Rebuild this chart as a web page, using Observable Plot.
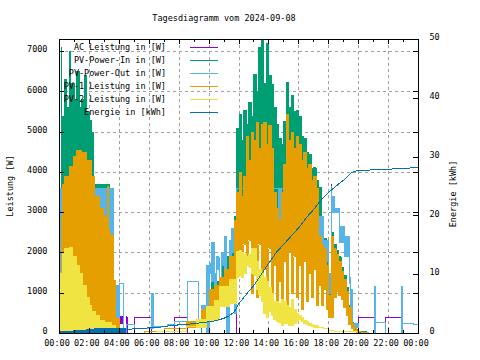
<!DOCTYPE html>
<html>
<head>
<meta charset="utf-8">
<script src="https://cdn.jsdelivr.net/npm/d3@7"></script>
<script src="https://cdn.jsdelivr.net/npm/@observablehq/plot@0.6"></script>
<style>
  html,body{margin:0;padding:0;background:#fff;}
  #chart{position:relative;width:480px;height:360px;overflow:hidden;}
  #chart svg{position:absolute;left:0;top:0;}
</style>
</head>
<body>
<div id="chart"></div>
<script>
// ---------------- data ----------------
const titleText = "Tagesdiagramm vom 2024-09-08";
const yLabel = "Leistung [W]";
const y2Label = "Energie [kWh]";
const seriesNames = ["AC Leistung in [W]", "PV-Power-In in [W]", "PV-Power-Out in [W]",
  "PV-1 Leistung in [W]", "PV-2 Leistung in [W]", "Energie in [kWh]"];
const colors = ["#9400d3", "#009e73", "#56b4e9", "#e69f00", "#f0e442", "#0072b2"];

const majorHours = [0, 2, 4, 6, 8, 10, 12, 14, 16, 18, 20, 22, 24];
const minorHours = [1, 3, 5, 7, 9, 11, 13, 15, 17, 19, 21, 23];
const xTickLabels = ["00:00", "02:00", "04:00", "06:00", "08:00", "10:00", "12:00",
  "14:00", "16:00", "18:00", "20:00", "22:00", "00:00"];
const yTicks = [0, 1000, 2000, 3000, 4000, 5000, 6000, 7000];
const y2Ticks = [0, 10, 20, 30, 40, 50];

// AC Leistung [W] (upper / lower value per time step)
const acTime = ["00:00","03:35","04:00","04:18","04:28","04:31","05:02","06:09","07:42","08:33",
  "11:50","12:20","12:50","17:02","18:00","18:10","18:12","18:25","18:45","19:05",
  "19:25","19:28","19:37","20:00","21:04","21:06","21:49","22:53","22:55","24:00"];
const acHi = [3500,1100,410,0,410,0,390,0,390,0,
  3600,3640,3600,2000,1000,3700,3000,3000,2250,1900,
  1240,500,150,400,780,0,400,780,0,0];
const acLo = [0,0,250,0,0,0,390,0,390,0,
  3600,3640,3600,2000,1000,3700,3000,3000,2250,1900,
  1240,500,150,400,780,0,400,780,0,0];

// PV-Power-In [W]
const inTime = ["00:00","00:08","00:10","00:14","00:22","00:30","00:40","00:44","00:50","01:00",
  "01:10","01:20","01:30","01:40","01:50","02:00","02:10","02:15","03:20","03:35",
  "04:00","09:30","09:50","10:10","10:30","10:50","11:10","11:30","11:40",
  "11:50","12:00","12:10","12:20","12:30","12:40","12:50","13:00","13:10","13:20",
  "13:30","13:40","13:50","14:00","14:10","14:20","14:30","14:40","14:50","15:00",
  "15:10","15:20","15:30","15:40","15:50","16:00","16:10","16:20","16:30","16:40",
  "16:50","17:00","17:10","17:20","17:30","17:40","17:50","18:00","18:10","18:20",
  "18:30","18:40","18:50","19:00","19:10","19:20","19:30","19:40","19:50",
  "20:00","20:30","24:00"];
const inHi = [3000,7100,5000,5400,6300,5600,7000,6000,6200,5800,
  6500,5600,5800,6400,5500,5300,5000,3700,3500,1100,
  0,600,1000,1500,1300,1700,1900,2200,2900,
  5100,5450,4800,5530,5200,5740,5400,6430,6000,7110,
  7270,6200,7190,6400,6180,5600,5180,4850,4690,5270,
  6220,5600,5900,5500,5530,5400,4900,4850,4500,4440,
  4100,4110,3800,3620,2600,2350,2000,1100,2500,2200,
  2050,1900,1650,1450,1150,700,280,160,90,
  50,0,0];
const inLo = [0,0,0,0,0,0,0,0,0,0,
  0,0,0,0,0,0,0,0,0,0,
  0,300,400,700,800,900,900,1000,800,
  1600,1900,1700,2200,1800,2300,1000,1900,900,2200,
  1000,1600,1000,2100,800,1700,700,1300,500,1800,
  700,2000,1000,1900,900,1700,600,1800,800,1500,
  900,1600,700,1200,700,1100,600,400,400,900,
  1050,950,850,650,450,230,130,40,30,
  0,0,0];

// PV-Power-Out [W]
const outTime = ["00:00","03:35","04:00","04:18","04:30","05:02","06:08","06:16","07:13","07:42",
  "08:33","09:18","09:30","09:50","10:00","10:10","10:20","10:30","10:40","10:50",
  "11:00","11:10","11:20","11:30","11:40","11:50","14:40","14:50","17:02","17:20",
  "17:40","18:00","18:10","18:13","18:25","18:45","19:05","19:25","19:28","19:37",
  "20:00","21:04","21:07","21:49","22:53","22:56","23:40","24:00"];
const outHi = [3600,1200,1240,0,230,125,1000,180,230,300,
  1300,150,700,1700,1750,2270,1500,1900,1400,2000,
  2400,1600,2300,2600,2300,3600,3600,3600,2600,2900,
  2300,1500,3640,3400,3100,2650,2400,1400,1100,250,
  0,1175,265,0,1175,250,220,220];
const outLo = [0,0,1240,0,230,125,125,180,230,300,
  1300,150,500,0,1500,1300,1200,1600,1150,1700,
  1300,0,1900,2000,500,3600,2100,3600,2000,2000,
  1800,1000,1000,3000,3000,2250,1900,1240,500,150,
  0,0,265,0,0,250,220,220];

// PV-1 Leistung [W]
const pv1Time = ["00:00","00:08","00:14","00:22","00:40","00:58","01:10","01:30","01:50","02:10",
  "02:20","02:40","02:55","03:10","03:13","03:16","03:20","03:35","03:45","04:00",
  "04:20","05:40","07:00","08:30","09:30","10:00","10:20","10:40","11:00","11:20",
  "11:40",
  "11:50","12:00","12:10","12:20","12:30","12:40","12:50","13:00","13:10","13:20",
  "13:30","13:40","13:50","14:00","14:10","14:20","14:30","14:40","14:50","15:00",
  "15:10","15:20","15:30","15:40","15:50","16:00","16:10","16:20","16:30","16:40",
  "16:50","17:00","17:10","17:20","17:30","17:40","17:50","18:00","18:10","18:20",
  "18:30","18:40","18:50","19:00","19:10","19:20","19:30","19:40","19:50",
  "20:00","20:10","20:40","24:00"];
const pv1Hi = [1000,2900,3700,3900,4150,4400,4550,4500,4300,3900,
  3400,3100,2900,2700,3650,2600,2450,1320,380,130,
  0,50,120,300,600,1100,1200,1400,1600,1900,
  2800,
  3500,4000,3400,3900,4900,4300,5000,4800,5250,4600,
  5200,5250,4700,5170,4600,3500,3100,2800,3500,4200,
  5450,4800,5000,4600,4900,4700,4300,4500,4100,4200,
  3800,3900,3600,2400,2200,2100,1700,950,2400,2100,
  1950,1800,1550,1350,1050,650,250,150,80,
  60,30,0,0];
const pv1Lo = [0,0,0,0,0,0,0,0,0,0,
  0,0,0,0,0,0,0,0,0,0,
  0,50,120,150,300,450,500,700,800,800,
  800,
  1600,1900,1700,2200,1800,2300,1000,1900,900,2200,
  1000,1600,1000,2100,800,1700,700,1300,500,1800,
  700,2000,1000,1900,900,1700,600,1800,800,1500,
  900,1600,700,1200,700,1100,600,400,400,900,
  1050,950,850,650,450,230,130,40,30,
  60,30,0,0];

// PV-2 Leistung [W]
const pv2Time = ["00:00","00:05","00:12","00:20","00:40","00:52","01:10","01:20","01:33","01:50",
  "02:00","02:10","02:25","02:40","03:00","03:30","03:45","06:30","08:30","09:10",
  "09:50","10:20","10:40","11:20","11:50",
  "12:00","12:10","12:20","12:30","12:40","12:50","13:00","13:10","13:20","13:30",
  "13:40","13:50","14:00","14:10","14:20","14:30","14:40","14:50","15:00","15:10",
  "15:20","15:30","15:40","15:50","16:00","16:10","16:20","16:30","16:40","16:50",
  "17:00",
  "17:20","17:40","18:00","18:20","18:40","20:00","20:30","24:00"];
const pv2Hi = [800,1490,1990,2100,2140,1900,1700,1500,1200,900,
  700,550,450,330,280,200,0,60,170,350,
  660,820,1160,1330,2030,
  2050,2000,1950,1900,1950,2100,2100,1800,1600,1500,
  1400,1300,1150,1000,800,800,750,850,800,700,
  650,850,600,500,450,400,330,300,260,220,
  190,
  150,120,80,60,40,10,0,0];
const pv2Lo = [0,0,0,0,0,0,0,0,0,0,
  0,0,0,0,0,0,0,60,170,160,
  330,330,660,740,1400,
  1450,1400,1500,1700,1650,1500,1450,1100,950,800,
  500,400,550,450,350,300,280,200,250,250,
  200,200,250,300,350,300,250,220,200,170,
  150,
  150,120,80,60,40,10,0,0];

// Energie [kWh]
const enTime = ["00:00","01:40","02:20","04:30","06:40","07:40","09:00","10:00","10:30","11:00",
  "11:20","11:40","12:00","12:30","13:00","13:30","14:00","14:30","15:00","15:30",
  "16:00","16:30","17:00","17:30","18:00","18:30","19:00","19:30","19:45","20:00",
  "21:30","22:30","23:00","24:00"];
const enHi = [0.27,0.56,0.78,0.7,1.07,1.4,1.67,2.0,2.2,2.6,
  3.0,3.6,5.1,6.7,8.2,10.1,12.0,13.8,15.2,16.6,
  18.0,19.7,21.1,22.8,24.0,25.1,26.1,27.3,27.6,27.7,
  27.9,28.0,28.1,28.2];
const enLo = [0,0,0,0.7,1.07,1.4,1.67,2.0,2.2,2.6,
  3.0,3.6,5.1,6.7,8.2,10.1,12.0,13.8,15.2,16.6,
  18.0,19.7,21.1,22.8,24.0,25.1,26.1,27.3,27.6,27.7,
  27.9,28.0,28.1,28.2];

// ---------------- layout ----------------
const W = 480, H = 360;
const mL = 59, mR = 62, mT = 39, mB = 27;
const yMax = 7300, y2Max = 50, k2 = yMax / y2Max;
const fontFam = "'DejaVu Sans Mono', monospace";
const fw = W - mL - mR, fh = H - mT - mB;

const parseT = s => { const [h, m] = s.split(":").map(Number); return h + m / 60; };
function table(name, t, hi, lo, k = 1) {
  if (t.length !== hi.length || t.length !== lo.length)
    throw new Error(name + " length mismatch " + t.length + " " + hi.length + " " + lo.length);
  return t.map((s, i) => ({x: parseT(s), hi: hi[i] * k, lo: lo[i] * k}));
}

const series = [
  {data: table("ac", acTime, acHi, acLo), curve: "step-after"},
  {data: table("in", inTime, inHi, inLo), curve: "step-after"},
  {data: table("out", outTime, outHi, outLo), curve: "step-after"},
  {data: table("pv1", pv1Time, pv1Hi, pv1Lo), curve: "step-after"},
  {data: table("pv2", pv2Time, pv2Hi, pv2Lo), curve: "step-after"},
  {data: table("en", enTime, enHi, enLo, k2), curve: "linear"}
].map((s, i) => ({...s, color: colors[i], name: seriesNames[i]}));

const crisp = {shapeRendering: "crispEdges"};
const gridStyle = {stroke: "#a0a0a0", strokeOpacity: 1, strokeWidth: 1, strokeDasharray: "3,3", ...crisp};

const marks = [
  Plot.gridY(yTicks.filter(d => d > 0), gridStyle),
  Plot.gridX(majorHours.filter(d => d > 0 && d < 24), gridStyle)
];
for (const s of series) {
  marks.push(Plot.areaY(s.data, {x: "x", y1: "lo", y2: "hi", curve: "step-after", fill: s.color, ...crisp}));
  marks.push(Plot.lineY(s.data, {x: "x", y: "hi", curve: s.curve, stroke: s.color, strokeWidth: 1, ...crisp}));
  marks.push(Plot.lineY(s.data, {x: "x", y: "lo", curve: s.curve, stroke: s.color, strokeWidth: 1, ...crisp}));
}
const tickStyle = {stroke: "black", strokeWidth: 1, ...crisp};
marks.push(
  Plot.frame({stroke: "black", strokeWidth: 1, ...crisp}),
  Plot.tickY(yTicks, {y: d => d, insetRight: fw - 5, ...tickStyle}),
  Plot.tickY(yTicks, {y: d => d, insetLeft: fw - 5, ...tickStyle}),
  Plot.tickY(y2Ticks, {y: d => d * k2, insetLeft: fw - 5, ...tickStyle}),
  Plot.tickX(majorHours, {x: d => d, insetTop: fh - 5, ...tickStyle}),
  Plot.tickX(majorHours, {x: d => d, insetBottom: fh - 5, ...tickStyle}),
  Plot.tickX(minorHours, {x: d => d, insetTop: fh - 3, ...tickStyle}),
  Plot.tickX(minorHours, {x: d => d, insetBottom: fh - 3, ...tickStyle}),
  Plot.axisY(yTicks, {anchor: "left", tickSize: 0, tickPadding: 12, tickFormat: d => String(d), label: null, dy: -2}),
  Plot.axisY(y2Ticks.map(d => d * k2), {anchor: "right", tickSize: 0, tickPadding: 11,
    tickFormat: d => String(Math.round(d / k2)), label: null, dy: -2}),
  Plot.axisX(majorHours, {anchor: "bottom", tickSize: 0, tickPadding: 6,
    tickFormat: d => xTickLabels[Math.round(d / 2)], label: null, dx: -2.5})
);

const plot = Plot.plot({
  width: W, height: H,
  marginLeft: mL, marginRight: mR, marginTop: mT, marginBottom: mB,
  x: {domain: [0, 24]},
  y: {domain: [0, yMax]},
  style: {fontFamily: fontFam, fontSize: "8.5px", color: "black", background: "white"},
  marks
});
document.getElementById("chart").appendChild(plot);

// title, axis labels, legend
const svg = d3.select(plot);
const txt = (x, y, s, anchor = "middle", rot = 0) => {
  const g = svg.append("g").attr("transform", `translate(${x},${y}) rotate(${rot})`);
  g.append("text").attr("text-anchor", anchor).attr("dy", "0.35em")
    .attr("fill", "black").style("font-family", fontFam).style("font-size", "8.5px").text(s);
};
txt(224, 18, titleText);
txt(10, 186, yLabel, "middle", -90);
txt(453, 194, y2Label, "middle", -90);
series.forEach((s, i) => {
  const y = 46.7 + 13.1 * i;
  txt(166, y, s.name, "end");
  svg.append("line").attr("x1", 190).attr("x2", 218)
    .attr("y1", Math.round(y) + 0.5).attr("y2", Math.round(y) + 0.5)
    .attr("stroke", s.color).attr("stroke-width", 1).attr("shape-rendering", "crispEdges");
});
</script>
</body>
</html>
